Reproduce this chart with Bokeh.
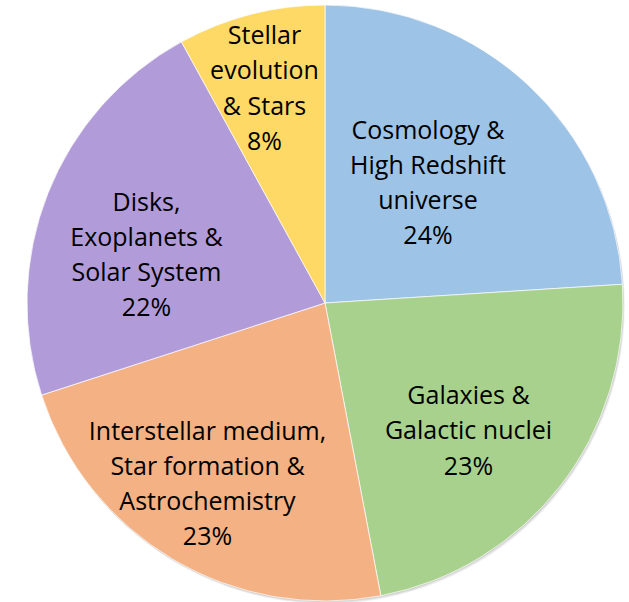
import math
from bokeh.plotting import figure
from bokeh.models import ColumnDataSource, Range1d
from bokeh.core.properties import value
from bokeh.embed import file_html
from bokeh.resources import INLINE

# ---- data ----
categories = [
    "Cosmology &\nHigh Redshift\nuniverse",
    "Galaxies &\nGalactic nuclei",
    "Interstellar medium,\nStar formation &\nAstrochemistry",
    "Disks,\nExoplanets &\nSolar System",
    "Stellar\nevolution\n& Stars",
]
shares = [24, 23, 23, 22, 8]
colors = ["#9DC3E6", "#A9D18E", "#F4B183", "#B19CD9", "#FFD966"]

# ---- layout (label anchor offsets from pie centre, px) ----
label_dx = [103, 143.5, -117.5, -178.5, -60.5]
label_dy = [121.5, -126.5, -179.5, 49.5, 216]
R = 298

total = sum(shares)
starts, ends = [], []
a = math.pi / 2
for s in shares:
    starts.append(a)
    a -= 2 * math.pi * s / total
    ends.append(a)

labels = [f"{c}\n{round(100 * s / total)}%" for c, s in zip(categories, shares)]

src = ColumnDataSource(dict(start=starts, end=ends, color=colors))
lsrc = ColumnDataSource(dict(x=label_dx, y=label_dy, text=labels))

p = figure(width=629, height=602, output_backend="svg", toolbar_location=None,
           x_range=Range1d(-324.5, 304.5), y_range=Range1d(-299.5, 302.5),
           min_border=0, outline_line_color=None)
p.axis.visible = False
p.grid.visible = False
p.background_fill_color = "white"
p.border_fill_color = "white"

# soft shadow
for off, al in [(3.0, 0.10), (2.0, 0.15), (1.0, 0.2)]:
    p.circle(x=[off * 0.6], y=[-off], radius=R, fill_color="#808080", fill_alpha=al,
             line_color=None)

p.wedge(x=0, y=0, radius=R, start_angle="start", end_angle="end", direction="clock",
        fill_color="color", line_color="white", line_width=1, line_alpha=0.7, source=src)

p.text(x="x", y="y", text="text", source=lsrc, text_align="center",
       text_baseline="middle", text_font=value("Open Sans"), text_font_size="25px",
       text_line_height=1.03, text_color="black")

open("out.html", "w").write(file_html(p, INLINE))
